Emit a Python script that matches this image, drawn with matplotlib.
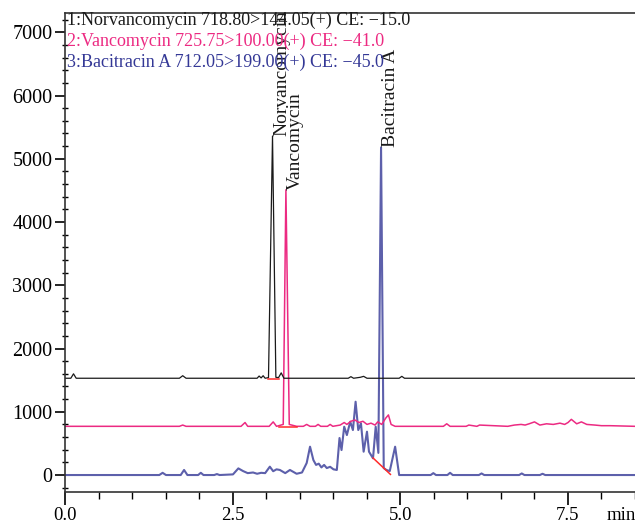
import numpy as np
import matplotlib
matplotlib.use("Agg")
import matplotlib.pyplot as plt
from matplotlib.ticker import MultipleLocator

# chromatogram traces (time in min, intensity as drawn)
black_t = [0.0, 0.08, 0.12, 0.16, 1.70, 1.75, 1.80, 2.86, 2.89, 2.92, 2.95, 2.98,
           3.03, 3.09, 3.14, 3.18, 3.22, 3.26, 4.22, 4.26, 4.30, 4.40, 4.45, 4.50,
           4.98, 5.02, 5.06, 8.5]
black_v = [1530, 1530, 1600, 1530, 1530, 1570, 1530, 1530, 1565, 1535, 1570, 1530,
           1540, 5360, 1545, 1540, 1615, 1530, 1530, 1555, 1530, 1545, 1560, 1530,
           1530, 1560, 1530, 1530]

pink_t = [0.0, 1.70, 1.75, 1.80, 2.62, 2.68, 2.72, 3.04, 3.10, 3.15, 3.25, 3.29,
          3.34, 3.45, 3.55, 3.60, 3.65, 3.73, 3.77, 3.81, 3.91, 3.95, 3.99, 4.10,
          4.16, 4.20, 4.26, 4.32, 4.38, 4.44, 4.50, 4.56, 4.62, 4.66, 4.72, 4.78,
          4.82, 4.86, 4.92, 5.64, 5.69, 5.74, 5.98, 6.02, 6.14, 6.18, 6.60, 6.70,
          6.80, 6.86, 6.92, 7.00, 7.08, 7.18, 7.28, 7.38, 7.45, 7.50, 7.55, 7.63,
          7.70, 7.78, 7.90, 8.00, 8.13, 8.5]
pink_v = [770, 770, 790, 770, 770, 830, 770, 770, 840, 770, 800, 4510,
          800, 770, 770, 800, 770, 770, 800, 770, 770, 800, 770, 790,
          830, 800, 850, 870, 830, 850, 800, 820, 790, 840, 800, 900,
          950, 800, 770, 770, 810, 770, 770, 790, 770, 790, 770, 790,
          800, 790, 810, 840, 790, 810, 800, 820, 800, 830, 880, 810,
          840, 800, 790, 780, 780, 770]

blue_t = [0.0, 1.40, 1.45, 1.50, 1.72, 1.77, 1.82, 1.98, 2.02, 2.06, 2.22, 2.26,
          2.30, 2.50, 2.58, 2.65, 2.72, 2.80, 2.86, 2.92, 2.98, 3.05, 3.10, 3.15,
          3.20, 3.28, 3.35, 3.45, 3.53, 3.60, 3.65, 3.70, 3.74, 3.78, 3.82, 3.86,
          3.90, 3.95, 4.00, 4.05, 4.09, 4.12, 4.16, 4.20, 4.25, 4.29, 4.33, 4.37,
          4.41, 4.45, 4.50, 4.53, 4.59, 4.63, 4.67, 4.71, 4.75, 4.79, 4.84, 4.92,
          4.98, 5.45, 5.49, 5.53, 5.70, 5.74, 5.78, 6.17, 6.21, 6.25, 6.77, 6.81,
          6.85, 7.08, 7.12, 7.16, 8.5]
blue_v = [0, 0, 35, 0, 0, 80, 0, 0, 35, 0, 0, 15,
          0, 10, 105, 63, 30, 40, 20, 35, 30, 132, 60, 90,
          80, 30, 80, 20, 40, 190, 448, 237, 160, 180, 120, 160,
          110, 130, 90, 80, 585, 395, 764, 632, 843, 711, 1159, 711,
          817, 369, 685, 369, 264, 764, 350, 5180, 110, 80, 63, 448,
          0, 0, 30, 0, 0, 35, 0, 0, 25, 0, 0, 25,
          0, 0, 20, 0, 0]

# integration baselines (red)
red_segments = [([3.02, 3.19], [1515, 1515]),
                ([3.19, 3.45], [758, 758]),
                ([4.59, 4.85], [270, 10])]

peak_names = ["Norvancomycin", "Vancomycin", "Bacitracin A"]
peak_t = [3.09, 3.29, 4.71]
peak_v = [5360, 4510, 5180]

legend_lines = ["1:Norvancomycin 718.80>144.05(+) CE: \u221215.0",
                "2:Vancomycin 725.75>100.00(+) CE: \u221241.0",
                "3:Bacitracin A 712.05>199.00(+) CE: \u221245.0"]

c_black = "#1a1a1a"
c_pink = "#ec2a82"
c_blue = "#343896"
colors = [c_black, c_pink, c_blue]

plt.rcParams["font.family"] = ["Liberation Serif", "DejaVu Serif"]

fig = plt.figure(figsize=(6.35, 5.23), dpi=100)
ax = fig.add_axes([0.1031, 0.0598, 0.8969, 0.9148])

ax.plot(blue_t, blue_v, color=c_blue, lw=1.5, alpha=0.8)
ax.plot(pink_t, pink_v, color=c_pink, lw=1.1)
ax.plot(black_t, black_v, color=c_black, lw=0.9)
for xs, ys in red_segments:
    ax.plot(xs, ys, color="#ff2a2a", lw=1.1)

# peak names, rotated, sitting on top of each peak
for name, t, v in zip(peak_names, peak_t, peak_v):
    ax.text(t + 0.02, v, name, rotation=90, ha="left", va="bottom",
            fontsize=14, color=c_black)

for i, (line, c) in enumerate(zip(legend_lines, colors)):
    ax.text(0.002, 0.986 - 0.044 * i, line, transform=ax.transAxes,
            ha="left", va="center", fontsize=13, color=c)

ax.set_xlim(0, 8.5)
ax.set_ylim(-264, 7300)

ax.xaxis.set_major_locator(MultipleLocator(2.5))
ax.xaxis.set_minor_locator(MultipleLocator(0.5))
ax.yaxis.set_major_locator(MultipleLocator(1000))
ax.yaxis.set_minor_locator(MultipleLocator(200))
ax.xaxis.set_major_formatter(lambda x, pos: f"{x:.1f}")

ax.tick_params(axis="x", which="major", direction="out", length=9, width=1.2,
               pad=2, labelsize=13.5)
ax.tick_params(axis="x", which="minor", direction="out", length=5, width=1.0)
ax.tick_params(axis="y", which="major", direction="out", length=7.5, width=1.2,
               pad=2, labelsize=14.5)
ax.tick_params(axis="y", which="minor", direction="inout", length=5, width=1.0)

for s in ["left", "top", "bottom"]:
    ax.spines[s].set_color("#333333")
    ax.spines[s].set_linewidth(1.2)
ax.spines["right"].set_visible(False)

ax.text(8.08, -0.049, "min", transform=ax.get_xaxis_transform(),
        ha="left", va="center", fontsize=13.5)

fig.savefig("out.png", dpi=100)
